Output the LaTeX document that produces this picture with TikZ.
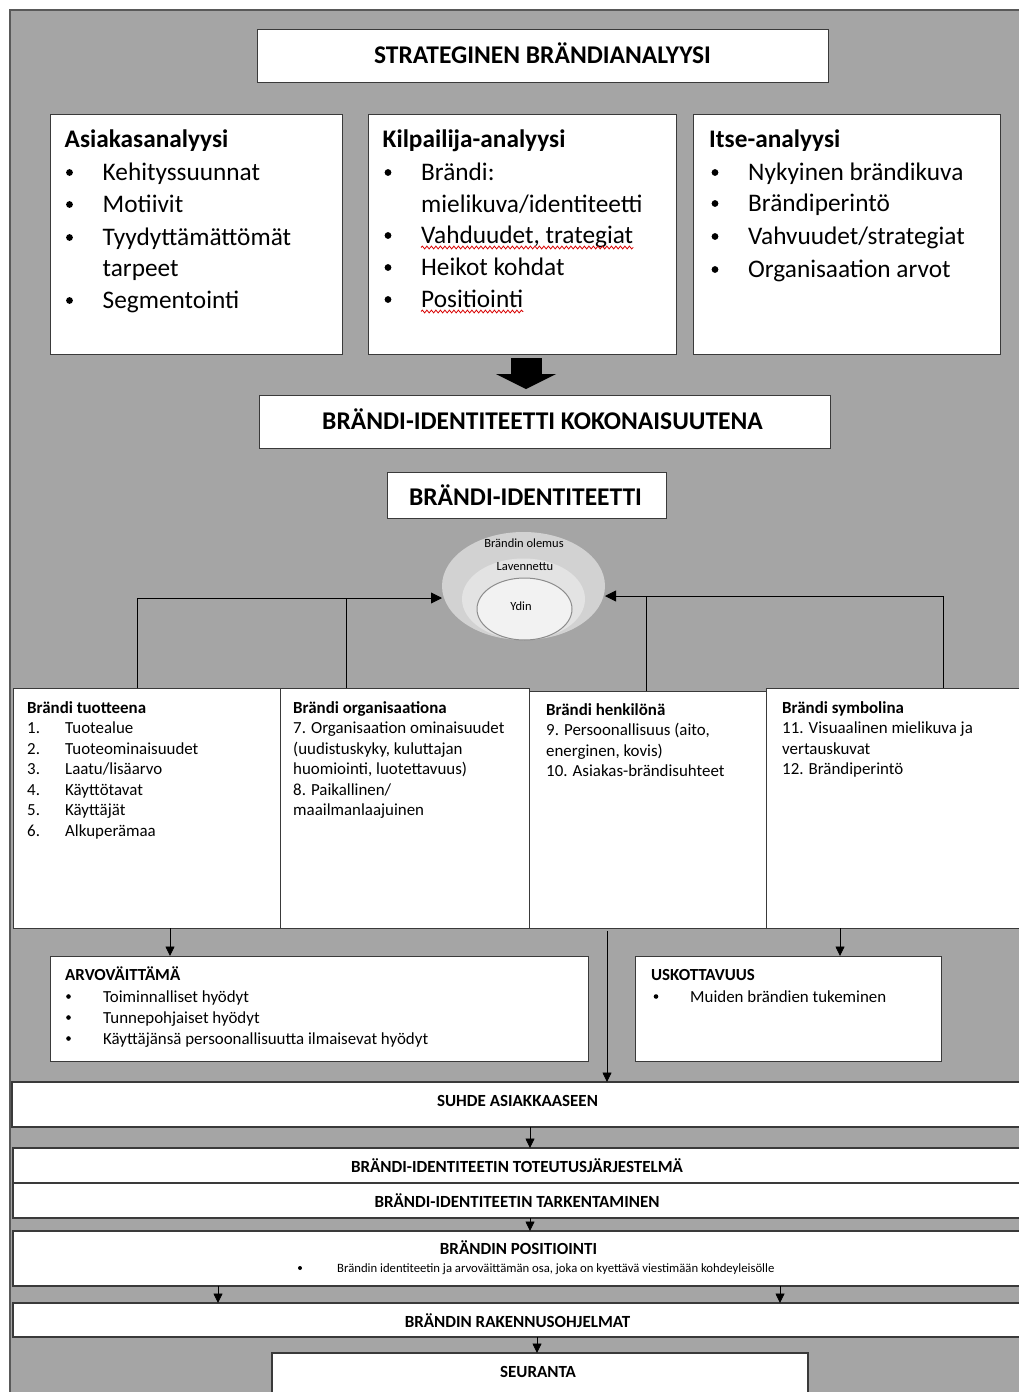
\documentclass[tikz,border=0pt]{standalone}
\usepackage{fontspec}
\setmainfont{Carlito}
\usetikzlibrary{arrows.meta,decorations.pathmorphing,shapes.geometric}
\definecolor{bg}{HTML}{A5A5A5}
\definecolor{ellA}{HTML}{D2D2D2}
\definecolor{ellB}{HTML}{E3E3E3}
\definecolor{ellC}{HTML}{F2F2F2}
\definecolor{bord}{HTML}{3A3A3A}
\begin{document}
\begin{tikzpicture}[x=1pt,y=-1pt,
  box/.style={draw=bord,line width=0.9pt,fill=white,inner sep=0,outer sep=0,anchor=north west},
  wbox/.style={box,line width=1.3pt,minimum width=1030},
  txt/.style={inner sep=0,anchor=base west},
  ctxt/.style={inner sep=0,anchor=base},
  arr/.style={-{Triangle[length=9.5pt,width=9pt]},line width=0.8pt},
  bigarr/.style={-{Triangle[length=11pt,width=11pt]},line width=0.9pt},
  fT/.style={font=\fontsize{25.5}{30}\selectfont\bfseries},
  fB/.style={font=\fontsize{25.3}{30}\selectfont},
  fBh/.style={font=\fontsize{25.3}{30}\selectfont\bfseries},
  fS/.style={font=\fontsize{16.9}{20}\selectfont},
  fSh/.style={font=\fontsize{16.9}{20}\selectfont\bfseries},
  fC/.style={font=\fontsize{17}{20}\selectfont\bfseries},
  fE/.style={font=\fontsize{12.5}{14}\selectfont},
  fX/.style={font=\fontsize{12.7}{14}\selectfont},
  wavy/.style={draw=red!85!black,line width=0.8pt,decorate,decoration={snake,amplitude=1.4pt,segment length=4.5pt}},
]
\useasboundingbox (0,0) rectangle (1019,1392);
\clip (0,0) rectangle (1019,1392);
\fill[white] (0,0) rectangle (1019,1392);
\fill[bg] (10,10) rectangle (1040,1410);
\draw[line width=2pt,draw=black!65] (10,1410) -- (10,10) -- (1040,10);

% title
\node[box,minimum width=571,minimum height=53] (title) at (257,29) {};
\node[fT,ctxt] (titlet) at (542.5,63) {STRATEGINEN BRÄNDIANALYYSI};

% three analysis boxes
\node[box,minimum width=292,minimum height=240] (as) at (50,114) {};
\node[box,minimum width=308,minimum height=240] (ki) at (368,114) {};
\node[box,minimum width=307,minimum height=240] (it) at (693,114) {};

\node[fBh,txt] (ash) at (64.5,147) {Asiakasanalyysi};
\foreach \y in {180,212,245,308}{\fill (69.5,\y-7.5) circle (3.4);}
\node[fB,txt] (as1) at (102.5,180) {Kehityssuunnat};
\node[fB,txt] (as2) at (102.5,212) {Motiivit};
\node[fB,txt] (as3) at (102.5,245) {Tyydyttämättömät};
\node[fB,txt] (as4) at (102.5,276) {tarpeet};
\node[fB,txt] (as5) at (102.5,308) {Segmentointi};

\node[fBh,txt] (kih) at (382.5,147) {Kilpailija-analyysi};
\foreach \y in {180,243,275,307}{\fill (388,\y-7.5) circle (3.4);}
\node[fB,txt] (ki1) at (421,180) {Brändi:};
\node[fB,txt] (ki2) at (421,212) {mielikuva/identiteetti};
\node[fB,txt] (ki3) at (421,243) {Vahduudet, trategiat};
\node[fB,txt] (ki4) at (421,275) {Heikot kohdat};
\node[fB,txt] (ki5) at (421,307) {Positiointi};
\draw[wavy] ([yshift=-4.5pt]ki3.base west) -- ([yshift=-4.5pt]ki3.base east);
\draw[wavy] ([yshift=-4.5pt]ki5.base west) -- ([yshift=-4.5pt]ki5.base east);

\node[fBh,txt] (ith) at (709,147) {Itse-analyysi};
\foreach \y in {180,211,244,277}{\fill (715,\y-7.5) circle (3.4);}
\node[fB,txt] (it1) at (748,180) {Nykyinen brändikuva};
\node[fB,txt] (it2) at (748,211) {Brändiperintö};
\node[fB,txt] (it3) at (748,244) {Vahvuudet/strategiat};
\node[fB,txt] (it4) at (748,277) {Organisaation arvot};

% big arrow
\fill (511,358) rectangle (542,374);
\fill (496,374) -- (556,374) -- (526,389) -- cycle;

\node[box,minimum width=571,minimum height=53] (koko) at (259,395) {};
\node[fT,ctxt] (kokot) at (542.5,429) {BRÄNDI-IDENTITEETTI KOKONAISUUTENA};
\node[box,minimum width=279,minimum height=46] (bi) at (387,472) {};
\node[fT,ctxt] (bit) at (525.5,505) {BRÄNDI-IDENTITEETTI};

% ellipses
\node[ellipse,fill=ellA,minimum width=163,minimum height=108,inner sep=0] (olemus) at (523.5,586) {};
\node[ellipse,fill=ellB,minimum width=123,minimum height=81,inner sep=0] (laven) at (523.5,599) {};
\node[ellipse,fill=ellC,draw=black!45,line width=1pt,minimum width=95,minimum height=62,inner sep=0] (ydin) at (524.5,609) {};
\node[fE,ctxt] (olemust) at (524,547.5) {Brändin olemus};
\node[fE,ctxt] (lavent) at (525,570.5) {Lavennettu};
\node[fE,ctxt] (ydint) at (521,610) {Ydin};

% bottom four boxes
\node[box,minimum width=267,minimum height=240] (bt1) at (13,688) {};
\node[box,minimum width=249,minimum height=240] (bt2) at (280,688) {};
\node[box,minimum width=260,minimum height=240] (bt4) at (766,688) {};
\node[box,minimum width=237,minimum height=237] (bt3) at (529,691) {};

\node[fSh,txt] (bt1h) at (27,713) {Brändi tuotteena};
\node[fS,txt] (n1) at (27,733.5) {1.};
\node[fS,txt] (n2) at (27,754) {2.};
\node[fS,txt] (n3) at (27,774.5) {3.};
\node[fS,txt] (n4) at (27,795) {4.};
\node[fS,txt] (n5) at (27,815.5) {5.};
\node[fS,txt] (n6) at (27,836) {6.};
\node[fS,txt] (bt1l1) at (65,733.5) {Tuotealue};
\node[fS,txt] (bt1l2) at (65,754) {Tuoteominaisuudet};
\node[fS,txt] (bt1l3) at (65,774.5) {Laatu/lisäarvo};
\node[fS,txt] (bt1l4) at (65,795) {Käyttötavat};
\node[fS,txt] (bt1l5) at (65,815.5) {Käyttäjät};
\node[fS,txt] (bt1l6) at (65,836) {Alkuperämaa};

\node[fSh,txt] (bt2h) at (293,713) {Brändi organisaationa};
\node[fS,txt] (bt2l1) at (293,733.5) {7. Organisaation ominaisuudet};
\node[fS,txt] (bt2l2) at (293,754) {(uudistuskyky, kuluttajan};
\node[fS,txt] (bt2l3) at (293,774.5) {huomiointi, luotettavuus)};
\node[fS,txt] (bt2l4) at (293,795) {8. Paikallinen/};
\node[fS,txt] (bt2l5) at (293,815.5) {maailmanlaajuinen};
\node[fSh,txt] (bt3h) at (546,715) {Brändi henkilönä};
\node[fS,txt] (bt3l1) at (546,735.5) {9. Persoonallisuus (aito,};
\node[fS,txt] (bt3l2) at (546,756) {energinen, kovis)};
\node[fS,txt] (bt3l3) at (546,776.5) {10. Asiakas-brändisuhteet};
\node[fSh,txt] (bt4h) at (782,713) {Brändi symbolina};
\node[fS,txt] (bt4l1) at (782,733.5) {11. Visuaalinen mielikuva ja};
\node[fS,txt] (bt4l2) at (782,754) {vertauskuvat};
\node[fS,txt] (bt4l3) at (782,774.5) {12. Brändiperintö};

% connectors to ellipse
\coordinate (eL) at (442,598);
\coordinate (eR) at (605,596);
\coordinate (xL1) at (137,0);
\coordinate (xL2) at (346,0);
\coordinate (xR1) at (646,0);
\coordinate (xR2) at (943,0);
\draw[bigarr] (bt1.north -| xL1) -- (xL1 |- eL) -- (eL);
\draw[line width=0.9pt] (bt2.north -| xL2) -- (xL2 |- eL);
\draw[bigarr] (bt4.north -| xR2) -- (xR2 |- eR) -- (eR);
\draw[line width=0.9pt] (bt3.north -| xR1) -- (xR1 |- eR);

% middle boxes
\node[box,minimum width=538,minimum height=105] (arvo) at (50,956) {};
\node[box,minimum width=306,minimum height=105] (usk) at (635,956) {};
\node[fSh,txt] (arvoh) at (65,980) {ARVOVÄITTÄMÄ};
\foreach \y in {1002,1023,1044}{\fill (68.5,\y-5.5) circle (2.3);}
\node[fS,txt] (arvol1) at (103,1002) {Toiminnalliset hyödyt};
\node[fS,txt] (arvol2) at (103,1023) {Tunnepohjaiset hyödyt};
\node[fS,txt] (arvol3) at (103,1044) {Käyttäjänsä persoonallisuutta ilmaisevat hyödyt};
\node[fSh,txt] (uskh) at (651,980) {USKOTTAVUUS};
\fill (656,1002-5.5) circle (2.3);
\node[fS,txt] (uskl) at (690,1002) {Muiden brändien tukeminen};

\coordinate (xa) at (170,0);
\coordinate (xu) at (840,0);
\coordinate (xs) at (607,0);
\draw[arr] (bt1.south -| xa) -- (arvo.north -| xa);
\draw[arr] (bt4.south -| xu) -- (usk.north -| xu);

% full width boxes
\node[wbox,minimum height=45] (suhde) at (12,1082) {};
\node[fC,ctxt] (suhdet) at (517.5,1106) {SUHDE ASIAKKAASEEN};
\draw[arr] ([yshift=-3pt]bt3.south -| xs) -- (suhde.north -| xs);

\node[wbox,minimum height=35] (tot) at (13,1148) {};
\node[fC,ctxt] (tott) at (517,1172) {BRÄNDI-IDENTITEETIN TOTEUTUSJÄRJESTELMÄ};
\node[wbox,minimum height=35] (tark) at (13,1183) {};
\node[fC,ctxt] (tarkt) at (517,1207) {BRÄNDI-IDENTITEETIN TARKENTAMINEN};
\coordinate (xm) at (530,0);
\draw[arr] (suhde.south -| xm) -- (tot.north -| xm);

\node[wbox,minimum height=55] (pos) at (13,1231) {};
\node[fC,ctxt] (post) at (518.5,1254) {BRÄNDIN POSITIOINTI};
\fill (300,1268) circle (2);
\node[fX,txt] (posl) at (337,1272) {Brändin identiteetin ja arvoväittämän osa, joka on kyettävä viestimään kohdeyleisölle};
\draw[arr] (tark.south -| xm) -- (pos.north -| xm);

\node[wbox,minimum height=34] (rak) at (13,1303) {};
\node[fC,ctxt] (rakt) at (517.5,1327) {BRÄNDIN RAKENNUSOHJELMAT};
\coordinate (xp1) at (218,0);
\coordinate (xp2) at (780,0);
\draw[arr] (pos.south -| xp1) -- (rak.north -| xp1);
\draw[arr] (pos.south -| xp2) -- (rak.north -| xp2);

\node[box,line width=1.3pt,minimum width=536,minimum height=60] (seur) at (272,1353) {};
\node[fC,ctxt] (seurt) at (538,1377) {SEURANTA};
\coordinate (xr) at (537,0);
\draw[arr] (rak.south -| xr) -- (seur.north -| xr);
\end{tikzpicture}
\end{document}
